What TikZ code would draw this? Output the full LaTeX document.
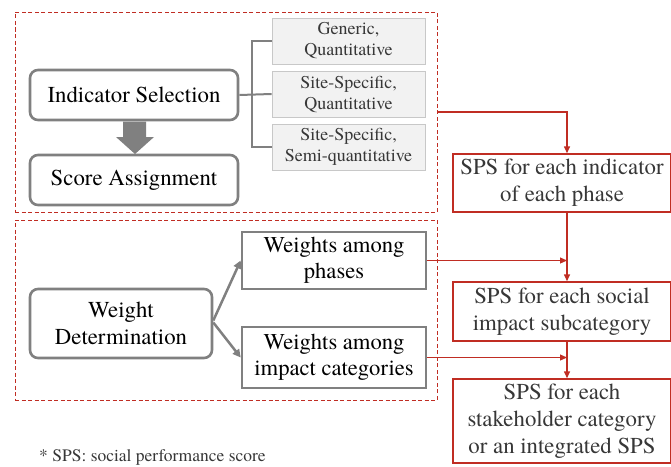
\documentclass[tikz,border=0pt]{standalone}
\usepackage{fontspec}
\setmainfont{TeX Gyre Termes}
\newfontfamily\tnr{TeX Gyre Termes}
\usetikzlibrary{arrows.meta}
\definecolor{myred}{RGB}{192,45,35}
\definecolor{mygray}{RGB}{128,128,128}
\definecolor{lgfill}{RGB}{242,242,242}
\definecolor{lgborder}{RGB}{200,200,200}
\definecolor{dtext}{RGB}{55,55,55}
\tikzset{
  mainbox/.style={draw=mygray, line width=2.6pt, rounded corners=8pt, align=center, font=\tnr\fontsize{22.8}{27}\selectfont, inner sep=0pt},
  sqbox/.style={draw=mygray, line width=2.6pt, align=center, font=\tnr\fontsize{22.6}{26}\selectfont, inner sep=0pt},
  optbox/.style={draw=lgborder, fill=lgfill, line width=0.8pt, align=center, text=dtext, font=\tnr\fontsize{18}{21}\selectfont, inner sep=0pt},
  spsbox/.style={draw=myred, line width=1.4pt, align=center, text=dtext, font=\tnr\fontsize{22.8}{27}\selectfont, inner sep=0pt},
  group/.style={draw=myred, line width=1pt, dash pattern=on 4pt off 2.5pt},
  redarrow/.style={draw=myred, line width=1.4pt, -{Triangle[length=7pt,width=6pt]}},
  grayline/.style={draw=mygray, line width=2pt},
  grayarrow/.style={draw=mygray, line width=2.5pt, -{Triangle[length=8pt,width=8pt]}},
}
\begin{document}
\begin{tikzpicture}[x=1pt,y=-1pt]
\useasboundingbox (0,0) rectangle (671,466);
% groups
\node[group, minimum width=422pt, minimum height=200pt, inner sep=0pt] (g1) at (226,112) {};
\node[group, minimum width=422pt, minimum height=180pt, inner sep=0pt] (g2) at (226,310) {};
% top group
\node[mainbox, minimum width=208pt, minimum height=50pt] (ind) at (134,95) {Indicator Selection};
\node[mainbox, minimum width=208pt, minimum height=50pt] (score) at (134,180) {Score Assignment};
\node[optbox, minimum width=153pt, minimum height=46pt] (o1) at (348.5,41) {Generic,\\Quantitative};
\node[optbox, minimum width=153pt, minimum height=46pt] (o2) at (348.5,94) {Site-Specific,\\Quantitative};
\node[optbox, minimum width=153pt, minimum height=46pt] (o3) at (348.5,147) {Site-Specific,\\Semi-quantitative};
\coordinate (bx) at (252,95);
\draw[grayline] (ind.east) -- (o2.west);
\draw[grayline] (o1.west) -| (bx) |- (o3.west);
% thick arrow
\fill[mygray] (123,121.5) -- (146,121.5) -- (146,137) -- (154,137) -- (135,154) -- (116,137) -- (123,137) -- cycle;
% bottom group
\node[mainbox, minimum width=182pt, minimum height=69pt] (wd) at (121,323.5) {Weight\\Determination};
\node[sqbox, minimum width=184pt, minimum height=57pt] (wp) at (334,260.5) {Weights among\\phases};
\node[sqbox, minimum width=184pt, minimum height=61pt] (wi) at (334,357.5) {Weights among\\impact categories};
\draw[grayarrow] (wd.east) ++(0,-3) -- (wp.west);
\draw[grayarrow] (wd.east) ++(0,-1) -- (wi.west);
% SPS boxes
\node[spsbox, minimum width=218pt, minimum height=58pt] (s1) at (562,183) {SPS for each indicator\\of each phase};
\node[spsbox, minimum width=218pt, minimum height=59pt] (s2) at (562,311.5) {SPS for each social\\impact subcategory};
\node[spsbox, minimum width=218pt, minimum height=84pt] (s3) at (562,421) {SPS for each\\stakeholder category\\or an integrated SPS};
\coordinate (j0) at (437,112);
\coordinate (c0) at (567,112);
\draw[redarrow] (j0) -- (c0) -- (c0 |- s1.north);
\draw[redarrow] (c0 |- s1.south) -- (c0 |- s2.north);
\draw[redarrow] (c0 |- s2.south) -- (c0 |- s3.north);
\draw[redarrow, line width=1.1pt] (wp.east) -- (c0 |- wp.east);
\draw[redarrow, line width=1.1pt] (wi.east) -- (c0 |- wi.east);
% footnote
\node[anchor=base west, text=dtext, font=\tnr\fontsize{17.5}{20}\selectfont, inner sep=0pt] (fn) at (39,461) {* SPS: social performance score};
\end{tikzpicture}
\end{document}
